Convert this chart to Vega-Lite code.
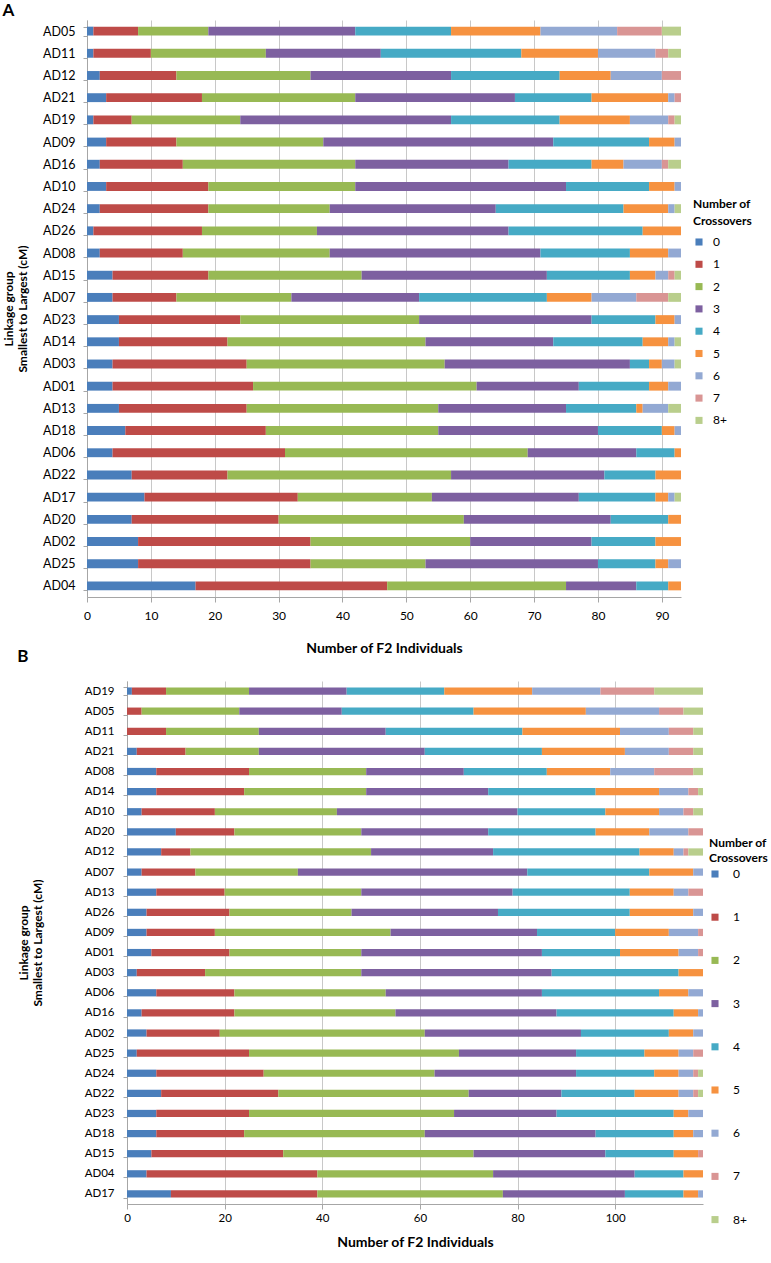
{
  "$schema": "https://vega.github.io/schema/vega-lite/v6.json",
  "padding": {"left": 2, "top": 2, "right": 0, "bottom": 0},
  "background": "white",
  "config": {"font": "Lato", "view": {"stroke": null}},
  "columns": 1,
  "spacing": -7,
  "resolve": {"scale": {"x": "independent", "y": "independent", "color": "independent"}, "legend": {"color": "independent"}},
  "datasets": {
    "A": [
      {"g":"AD05","c":"0","n":1},{"g":"AD05","c":"1","n":7},{"g":"AD05","c":"2","n":11},{"g":"AD05","c":"3","n":23},{"g":"AD05","c":"4","n":15},{"g":"AD05","c":"5","n":14},{"g":"AD05","c":"6","n":12},{"g":"AD05","c":"7","n":7},{"g":"AD05","c":"8+","n":3},
      {"g":"AD11","c":"0","n":1},{"g":"AD11","c":"1","n":9},{"g":"AD11","c":"2","n":18},{"g":"AD11","c":"3","n":18},{"g":"AD11","c":"4","n":22},{"g":"AD11","c":"5","n":12},{"g":"AD11","c":"6","n":9},{"g":"AD11","c":"7","n":2},{"g":"AD11","c":"8+","n":2},
      {"g":"AD12","c":"0","n":2},{"g":"AD12","c":"1","n":12},{"g":"AD12","c":"2","n":21},{"g":"AD12","c":"3","n":22},{"g":"AD12","c":"4","n":17},{"g":"AD12","c":"5","n":8},{"g":"AD12","c":"6","n":8},{"g":"AD12","c":"7","n":3},
      {"g":"AD21","c":"0","n":3},{"g":"AD21","c":"1","n":15},{"g":"AD21","c":"2","n":24},{"g":"AD21","c":"3","n":25},{"g":"AD21","c":"4","n":12},{"g":"AD21","c":"5","n":12},{"g":"AD21","c":"6","n":1},{"g":"AD21","c":"7","n":1},
      {"g":"AD19","c":"0","n":1},{"g":"AD19","c":"1","n":6},{"g":"AD19","c":"2","n":17},{"g":"AD19","c":"3","n":33},{"g":"AD19","c":"4","n":17},{"g":"AD19","c":"5","n":11},{"g":"AD19","c":"6","n":6},{"g":"AD19","c":"7","n":1},{"g":"AD19","c":"8+","n":1},
      {"g":"AD09","c":"0","n":3},{"g":"AD09","c":"1","n":11},{"g":"AD09","c":"2","n":23},{"g":"AD09","c":"3","n":36},{"g":"AD09","c":"4","n":15},{"g":"AD09","c":"5","n":4},{"g":"AD09","c":"6","n":1},
      {"g":"AD16","c":"0","n":2},{"g":"AD16","c":"1","n":13},{"g":"AD16","c":"2","n":27},{"g":"AD16","c":"3","n":24},{"g":"AD16","c":"4","n":13},{"g":"AD16","c":"5","n":5},{"g":"AD16","c":"6","n":6},{"g":"AD16","c":"7","n":1},{"g":"AD16","c":"8+","n":2},
      {"g":"AD10","c":"0","n":3},{"g":"AD10","c":"1","n":16},{"g":"AD10","c":"2","n":23},{"g":"AD10","c":"3","n":33},{"g":"AD10","c":"4","n":13},{"g":"AD10","c":"5","n":4},{"g":"AD10","c":"6","n":1},
      {"g":"AD24","c":"0","n":2},{"g":"AD24","c":"1","n":17},{"g":"AD24","c":"2","n":19},{"g":"AD24","c":"3","n":26},{"g":"AD24","c":"4","n":20},{"g":"AD24","c":"5","n":7},{"g":"AD24","c":"6","n":1},{"g":"AD24","c":"8+","n":1},
      {"g":"AD26","c":"0","n":1},{"g":"AD26","c":"1","n":17},{"g":"AD26","c":"2","n":18},{"g":"AD26","c":"3","n":30},{"g":"AD26","c":"4","n":21},{"g":"AD26","c":"5","n":6},
      {"g":"AD08","c":"0","n":2},{"g":"AD08","c":"1","n":13},{"g":"AD08","c":"2","n":23},{"g":"AD08","c":"3","n":33},{"g":"AD08","c":"4","n":14},{"g":"AD08","c":"5","n":6},{"g":"AD08","c":"6","n":2},
      {"g":"AD15","c":"0","n":4},{"g":"AD15","c":"1","n":15},{"g":"AD15","c":"2","n":24},{"g":"AD15","c":"3","n":29},{"g":"AD15","c":"4","n":13},{"g":"AD15","c":"5","n":4},{"g":"AD15","c":"6","n":2},{"g":"AD15","c":"7","n":1},{"g":"AD15","c":"8+","n":1},
      {"g":"AD07","c":"0","n":4},{"g":"AD07","c":"1","n":10},{"g":"AD07","c":"2","n":18},{"g":"AD07","c":"3","n":20},{"g":"AD07","c":"4","n":20},{"g":"AD07","c":"5","n":7},{"g":"AD07","c":"6","n":7},{"g":"AD07","c":"7","n":5},{"g":"AD07","c":"8+","n":2},
      {"g":"AD23","c":"0","n":5},{"g":"AD23","c":"1","n":19},{"g":"AD23","c":"2","n":28},{"g":"AD23","c":"3","n":27},{"g":"AD23","c":"4","n":10},{"g":"AD23","c":"5","n":3},{"g":"AD23","c":"6","n":1},
      {"g":"AD14","c":"0","n":5},{"g":"AD14","c":"1","n":17},{"g":"AD14","c":"2","n":31},{"g":"AD14","c":"3","n":20},{"g":"AD14","c":"4","n":14},{"g":"AD14","c":"5","n":4},{"g":"AD14","c":"6","n":1},{"g":"AD14","c":"8+","n":1},
      {"g":"AD03","c":"0","n":4},{"g":"AD03","c":"1","n":21},{"g":"AD03","c":"2","n":31},{"g":"AD03","c":"3","n":29},{"g":"AD03","c":"4","n":3},{"g":"AD03","c":"5","n":2},{"g":"AD03","c":"6","n":2},{"g":"AD03","c":"8+","n":1},
      {"g":"AD01","c":"0","n":4},{"g":"AD01","c":"1","n":22},{"g":"AD01","c":"2","n":35},{"g":"AD01","c":"3","n":16},{"g":"AD01","c":"4","n":11},{"g":"AD01","c":"5","n":3},{"g":"AD01","c":"6","n":2},
      {"g":"AD13","c":"0","n":5},{"g":"AD13","c":"1","n":20},{"g":"AD13","c":"2","n":30},{"g":"AD13","c":"3","n":20},{"g":"AD13","c":"4","n":11},{"g":"AD13","c":"5","n":1},{"g":"AD13","c":"6","n":4},{"g":"AD13","c":"8+","n":2},
      {"g":"AD18","c":"0","n":6},{"g":"AD18","c":"1","n":22},{"g":"AD18","c":"2","n":27},{"g":"AD18","c":"3","n":25},{"g":"AD18","c":"4","n":10},{"g":"AD18","c":"5","n":2},{"g":"AD18","c":"6","n":1},
      {"g":"AD06","c":"0","n":4},{"g":"AD06","c":"1","n":27},{"g":"AD06","c":"2","n":38},{"g":"AD06","c":"3","n":17},{"g":"AD06","c":"4","n":6},{"g":"AD06","c":"5","n":1},
      {"g":"AD22","c":"0","n":7},{"g":"AD22","c":"1","n":15},{"g":"AD22","c":"2","n":35},{"g":"AD22","c":"3","n":24},{"g":"AD22","c":"4","n":8},{"g":"AD22","c":"5","n":4},
      {"g":"AD17","c":"0","n":9},{"g":"AD17","c":"1","n":24},{"g":"AD17","c":"2","n":21},{"g":"AD17","c":"3","n":23},{"g":"AD17","c":"4","n":12},{"g":"AD17","c":"5","n":2},{"g":"AD17","c":"6","n":1},{"g":"AD17","c":"8+","n":1},
      {"g":"AD20","c":"0","n":7},{"g":"AD20","c":"1","n":23},{"g":"AD20","c":"2","n":29},{"g":"AD20","c":"3","n":23},{"g":"AD20","c":"4","n":9},{"g":"AD20","c":"5","n":2},
      {"g":"AD02","c":"0","n":8},{"g":"AD02","c":"1","n":27},{"g":"AD02","c":"2","n":25},{"g":"AD02","c":"3","n":19},{"g":"AD02","c":"4","n":10},{"g":"AD02","c":"5","n":4},
      {"g":"AD25","c":"0","n":8},{"g":"AD25","c":"1","n":27},{"g":"AD25","c":"2","n":18},{"g":"AD25","c":"3","n":27},{"g":"AD25","c":"4","n":9},{"g":"AD25","c":"5","n":2},{"g":"AD25","c":"6","n":2},
      {"g":"AD04","c":"0","n":17},{"g":"AD04","c":"1","n":30},{"g":"AD04","c":"2","n":28},{"g":"AD04","c":"3","n":11},{"g":"AD04","c":"4","n":5},{"g":"AD04","c":"5","n":2}
    ],
    "B": [
      {"g":"AD19","c":"0","n":1},{"g":"AD19","c":"1","n":7},{"g":"AD19","c":"2","n":17},{"g":"AD19","c":"3","n":20},{"g":"AD19","c":"4","n":20},{"g":"AD19","c":"5","n":18},{"g":"AD19","c":"6","n":14},{"g":"AD19","c":"7","n":11},{"g":"AD19","c":"8+","n":10},
      {"g":"AD05","c":"1","n":3},{"g":"AD05","c":"2","n":20},{"g":"AD05","c":"3","n":21},{"g":"AD05","c":"4","n":27},{"g":"AD05","c":"5","n":23},{"g":"AD05","c":"6","n":15},{"g":"AD05","c":"7","n":5},{"g":"AD05","c":"8+","n":4},
      {"g":"AD11","c":"1","n":8},{"g":"AD11","c":"2","n":19},{"g":"AD11","c":"3","n":26},{"g":"AD11","c":"4","n":28},{"g":"AD11","c":"5","n":20},{"g":"AD11","c":"6","n":10},{"g":"AD11","c":"7","n":5},{"g":"AD11","c":"8+","n":2},
      {"g":"AD21","c":"0","n":2},{"g":"AD21","c":"1","n":10},{"g":"AD21","c":"2","n":15},{"g":"AD21","c":"3","n":34},{"g":"AD21","c":"4","n":24},{"g":"AD21","c":"5","n":17},{"g":"AD21","c":"6","n":9},{"g":"AD21","c":"7","n":5},{"g":"AD21","c":"8+","n":2},
      {"g":"AD08","c":"0","n":6},{"g":"AD08","c":"1","n":19},{"g":"AD08","c":"2","n":24},{"g":"AD08","c":"3","n":20},{"g":"AD08","c":"4","n":17},{"g":"AD08","c":"5","n":13},{"g":"AD08","c":"6","n":9},{"g":"AD08","c":"7","n":8},{"g":"AD08","c":"8+","n":2},
      {"g":"AD14","c":"0","n":6},{"g":"AD14","c":"1","n":18},{"g":"AD14","c":"2","n":25},{"g":"AD14","c":"3","n":25},{"g":"AD14","c":"4","n":22},{"g":"AD14","c":"5","n":13},{"g":"AD14","c":"6","n":6},{"g":"AD14","c":"7","n":2},{"g":"AD14","c":"8+","n":1},
      {"g":"AD10","c":"0","n":3},{"g":"AD10","c":"1","n":15},{"g":"AD10","c":"2","n":25},{"g":"AD10","c":"3","n":37},{"g":"AD10","c":"4","n":18},{"g":"AD10","c":"5","n":11},{"g":"AD10","c":"6","n":5},{"g":"AD10","c":"7","n":2},{"g":"AD10","c":"8+","n":2},
      {"g":"AD20","c":"0","n":10},{"g":"AD20","c":"1","n":12},{"g":"AD20","c":"2","n":26},{"g":"AD20","c":"3","n":26},{"g":"AD20","c":"4","n":22},{"g":"AD20","c":"5","n":11},{"g":"AD20","c":"6","n":8},{"g":"AD20","c":"7","n":3},
      {"g":"AD12","c":"0","n":7},{"g":"AD12","c":"1","n":6},{"g":"AD12","c":"2","n":37},{"g":"AD12","c":"3","n":25},{"g":"AD12","c":"4","n":30},{"g":"AD12","c":"5","n":7},{"g":"AD12","c":"6","n":2},{"g":"AD12","c":"7","n":1},{"g":"AD12","c":"8+","n":3},
      {"g":"AD07","c":"0","n":3},{"g":"AD07","c":"1","n":11},{"g":"AD07","c":"2","n":21},{"g":"AD07","c":"3","n":47},{"g":"AD07","c":"4","n":25},{"g":"AD07","c":"5","n":9},{"g":"AD07","c":"6","n":2},
      {"g":"AD13","c":"0","n":6},{"g":"AD13","c":"1","n":14},{"g":"AD13","c":"2","n":28},{"g":"AD13","c":"3","n":31},{"g":"AD13","c":"4","n":24},{"g":"AD13","c":"5","n":9},{"g":"AD13","c":"6","n":3},{"g":"AD13","c":"7","n":3},
      {"g":"AD26","c":"0","n":4},{"g":"AD26","c":"1","n":17},{"g":"AD26","c":"2","n":25},{"g":"AD26","c":"3","n":30},{"g":"AD26","c":"4","n":27},{"g":"AD26","c":"5","n":13},{"g":"AD26","c":"6","n":2},
      {"g":"AD09","c":"0","n":4},{"g":"AD09","c":"1","n":14},{"g":"AD09","c":"2","n":36},{"g":"AD09","c":"3","n":30},{"g":"AD09","c":"4","n":16},{"g":"AD09","c":"5","n":11},{"g":"AD09","c":"6","n":6},{"g":"AD09","c":"7","n":1},
      {"g":"AD01","c":"0","n":5},{"g":"AD01","c":"1","n":16},{"g":"AD01","c":"2","n":27},{"g":"AD01","c":"3","n":37},{"g":"AD01","c":"4","n":16},{"g":"AD01","c":"5","n":12},{"g":"AD01","c":"6","n":4},{"g":"AD01","c":"7","n":1},
      {"g":"AD03","c":"0","n":2},{"g":"AD03","c":"1","n":14},{"g":"AD03","c":"2","n":32},{"g":"AD03","c":"3","n":39},{"g":"AD03","c":"4","n":26},{"g":"AD03","c":"5","n":5},
      {"g":"AD06","c":"0","n":6},{"g":"AD06","c":"1","n":16},{"g":"AD06","c":"2","n":31},{"g":"AD06","c":"3","n":32},{"g":"AD06","c":"4","n":24},{"g":"AD06","c":"5","n":6},{"g":"AD06","c":"6","n":3},
      {"g":"AD16","c":"0","n":3},{"g":"AD16","c":"1","n":19},{"g":"AD16","c":"2","n":33},{"g":"AD16","c":"3","n":33},{"g":"AD16","c":"4","n":24},{"g":"AD16","c":"5","n":5},{"g":"AD16","c":"6","n":1},
      {"g":"AD02","c":"0","n":4},{"g":"AD02","c":"1","n":15},{"g":"AD02","c":"2","n":42},{"g":"AD02","c":"3","n":32},{"g":"AD02","c":"4","n":18},{"g":"AD02","c":"5","n":5},{"g":"AD02","c":"6","n":2},
      {"g":"AD25","c":"0","n":2},{"g":"AD25","c":"1","n":23},{"g":"AD25","c":"2","n":43},{"g":"AD25","c":"3","n":24},{"g":"AD25","c":"4","n":14},{"g":"AD25","c":"5","n":7},{"g":"AD25","c":"6","n":3},{"g":"AD25","c":"7","n":2},
      {"g":"AD24","c":"0","n":6},{"g":"AD24","c":"1","n":22},{"g":"AD24","c":"2","n":35},{"g":"AD24","c":"3","n":29},{"g":"AD24","c":"4","n":16},{"g":"AD24","c":"5","n":5},{"g":"AD24","c":"6","n":3},{"g":"AD24","c":"7","n":1},{"g":"AD24","c":"8+","n":1},
      {"g":"AD22","c":"0","n":7},{"g":"AD22","c":"1","n":24},{"g":"AD22","c":"2","n":39},{"g":"AD22","c":"3","n":19},{"g":"AD22","c":"4","n":15},{"g":"AD22","c":"5","n":9},{"g":"AD22","c":"6","n":3},{"g":"AD22","c":"7","n":1},{"g":"AD22","c":"8+","n":1},
      {"g":"AD23","c":"0","n":6},{"g":"AD23","c":"1","n":19},{"g":"AD23","c":"2","n":42},{"g":"AD23","c":"3","n":21},{"g":"AD23","c":"4","n":24},{"g":"AD23","c":"5","n":3},{"g":"AD23","c":"6","n":3},
      {"g":"AD18","c":"0","n":6},{"g":"AD18","c":"1","n":18},{"g":"AD18","c":"2","n":37},{"g":"AD18","c":"3","n":35},{"g":"AD18","c":"4","n":16},{"g":"AD18","c":"5","n":4},{"g":"AD18","c":"6","n":2},
      {"g":"AD15","c":"0","n":5},{"g":"AD15","c":"1","n":27},{"g":"AD15","c":"2","n":39},{"g":"AD15","c":"3","n":27},{"g":"AD15","c":"4","n":14},{"g":"AD15","c":"5","n":5},{"g":"AD15","c":"7","n":1},
      {"g":"AD04","c":"0","n":4},{"g":"AD04","c":"1","n":35},{"g":"AD04","c":"2","n":36},{"g":"AD04","c":"3","n":29},{"g":"AD04","c":"4","n":10},{"g":"AD04","c":"5","n":4},
      {"g":"AD17","c":"0","n":9},{"g":"AD17","c":"1","n":30},{"g":"AD17","c":"2","n":38},{"g":"AD17","c":"3","n":25},{"g":"AD17","c":"4","n":12},{"g":"AD17","c":"5","n":3},{"g":"AD17","c":"6","n":1}
    ]
  },
  "concat": [
    {
      "width": 594,
      "height": 577,
      "data": {"name": "A"},
      "title": {"text": "A", "anchor": "start", "frame": "bounds", "fontSize": 17, "fontWeight": "bold", "offset": -6, "color": "black"},
      "mark": {"type": "bar"},
      "encoding": {
        "y": {"field": "g", "type": "nominal",
          "sort": ["AD05","AD11","AD12","AD21","AD19","AD09","AD16","AD10","AD24","AD26","AD08","AD15","AD07","AD23","AD14","AD03","AD01","AD13","AD18","AD06","AD22","AD17","AD20","AD02","AD25","AD04"],
          "scale": {"paddingInner": 0.6, "paddingOuter": 0.3},
          "axis": {"title": ["Linkage group", "Smallest to Largest (cM)"], "titleFontSize": 12, "titleFontWeight": "bold", "titleColor": "black", "titleLineHeight": 14, "labelFontSize": 12.5, "labelColor": "black", "tickBand": "extent", "tickSize": 4, "labelPadding": 8, "titlePadding": 13, "domainColor": "#A6A6A6", "tickColor": "#A6A6A6", "grid": false}
        },
        "x": {"field": "n", "type": "quantitative", "stack": "zero",
          "scale": {"domain": [0, 93], "nice": false},
          "axis": {"values": [0,10,20,30,40,50,60,70,80,90], "title": "Number of F2 Individuals", "titleFontSize": 14, "titleFontWeight": "bold", "titleColor": "black", "titlePadding": 20, "labelFontSize": 12, "labelColor": "black", "labelPadding": 8, "labelFlush": false, "tickSize": 5, "domainColor": "#A6A6A6", "tickColor": "#A6A6A6", "grid": true, "gridColor": "#C8C8C8"}
        },
        "color": {"field": "c", "type": "nominal",
          "scale": {"domain": ["0","1","2","3","4","5","6","7","8+"], "range": ["#4A7EBB","#BE4B48","#98B954","#7D60A0","#46AAC5","#F69240","#93A9D3","#D99594","#B9CE8C"]},
          "legend": {"orient": "none", "legendX": 606, "legendY": 179, "title": ["Number of", "Crossovers"], "titleFontSize": 12, "titleFontWeight": "bold", "titleColor": "black", "titleLineHeight": 17, "labelFontSize": 12, "labelColor": "black", "symbolType": "square", "symbolSize": 50, "symbolStrokeWidth": 0, "rowPadding": 10.3, "titlePadding": 8, "labelOffset": 8}
        }
      }
    },
    {
      "width": 616,
      "height": 523,
      "data": {"name": "B"},
      "title": {"text": "B", "anchor": "start", "frame": "bounds", "fontSize": 17, "fontWeight": "bold", "offset": 9, "color": "black"},
      "mark": {"type": "bar"},
      "encoding": {
        "y": {"field": "g", "type": "nominal",
          "sort": ["AD19","AD05","AD11","AD21","AD08","AD14","AD10","AD20","AD12","AD07","AD13","AD26","AD09","AD01","AD03","AD06","AD16","AD02","AD25","AD24","AD22","AD23","AD18","AD15","AD04","AD17"],
          "scale": {"paddingInner": 0.64, "paddingOuter": 0.32},
          "axis": {"offset": -40, "title": ["Linkage group", "Smallest to Largest (cM)"], "titleFontSize": 12, "titleFontWeight": "bold", "titleColor": "black", "titleLineHeight": 14, "labelFontSize": 11.5, "labelColor": "black", "tickBand": "extent", "tickSize": 4, "labelPadding": 9, "titlePadding": 40, "domainColor": "#A6A6A6", "tickColor": "#A6A6A6", "grid": false}
        },
        "x": {"field": "n", "type": "quantitative", "stack": "zero",
          "scale": {"domain": [0, 118], "nice": false, "range": [40, 616]},
          "axis": {"values": [0,20,40,60,80,100], "title": "Number of F2 Individuals", "titleFontSize": 14, "titleFontWeight": "bold", "titleColor": "black", "titlePadding": 12, "titleX": 328, "labelFontSize": 11.5, "labelColor": "black", "labelPadding": 3, "labelFlush": false, "tickSize": 5, "domainColor": "#A6A6A6", "tickColor": "#A6A6A6", "grid": true, "gridColor": "#C8C8C8"}
        },
        "color": {"field": "c", "type": "nominal",
          "scale": {"domain": ["0","1","2","3","4","5","6","7","8+"], "range": ["#4A7EBB","#BE4B48","#98B954","#7D60A0","#46AAC5","#F69240","#93A9D3","#D99594","#B9CE8C"]},
          "legend": {"orient": "none", "legendX": 622, "legendY": 157, "title": ["Number of", "Crossovers"], "titleFontSize": 12, "titleFontWeight": "bold", "titleColor": "black", "titleLineHeight": 15, "labelFontSize": 12, "labelColor": "black", "symbolType": "square", "symbolSize": 50, "symbolStrokeWidth": 0, "rowPadding": 31.2, "titlePadding": 3, "labelOffset": 12}
        }
      }
    }
  ]
}
